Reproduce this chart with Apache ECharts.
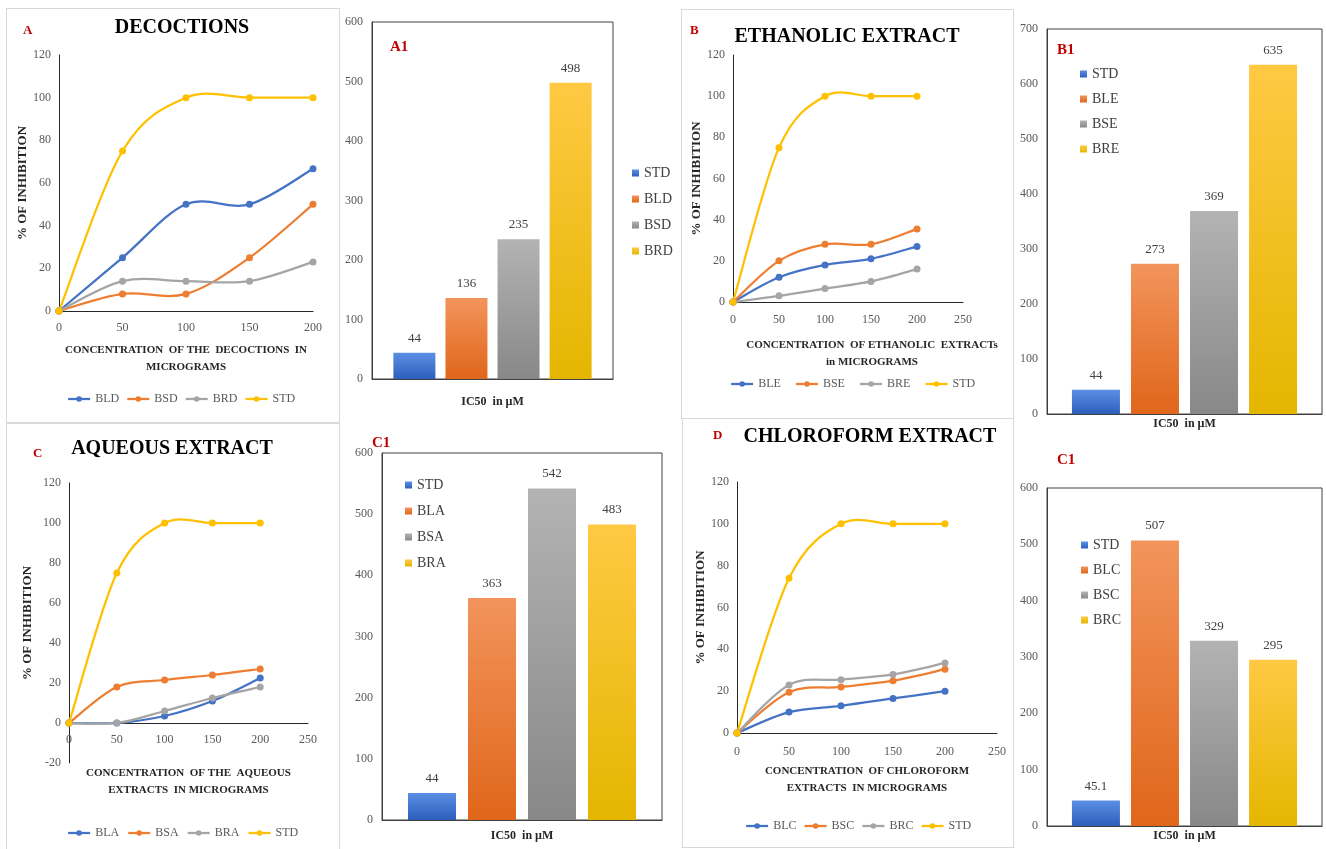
<!DOCTYPE html>
<html>
<head>
<meta charset="utf-8">
<script src="https://cdn.jsdelivr.net/npm/echarts@6/dist/echarts.min.js"></script>
<style>
html,body{margin:0;padding:0;background:#fff;}
.frame{position:absolute;border:1px solid #d9d9d9;box-sizing:border-box;}
.layer{position:absolute;left:0;top:0;width:1326px;height:849px;}
</style>
</head>
<body>
<div class="frame" style="left:6px;top:8px;width:334px;height:416px;"></div>
<div class="frame" style="left:681px;top:9px;width:333px;height:410px;"></div>
<div class="frame" style="left:6px;top:422px;width:334px;height:440px;"></div>
<div class="frame" style="left:682px;top:418px;width:332px;height:430px;"></div>
<div class="layer" id="cA"></div>
<div class="layer" id="cA1"></div>
<div class="layer" id="cB"></div>
<div class="layer" id="cB1"></div>
<div class="layer" id="cC"></div>
<div class="layer" id="cC1"></div>
<div class="layer" id="cD"></div>
<div class="layer" id="cD1"></div>
<script>
// ---------- DATA ----------
const concentrations = [0, 50, 100, 150, 200];

// A: Decoctions
const decoctionNames = ['BLD', 'BSD', 'BRD', 'STD'];
const BLD = [0, 25, 50, 50, 66.7];
const BSD = [0, 8, 8, 25, 50];
const BRD = [0, 14, 14, 14, 23];
const STD_A = [0, 75, 100, 100, 100];

// B: Ethanolic extract
const ethanolicNames = ['BLE', 'BSE', 'BRE', 'STD'];
const BLE = [0, 12, 18, 21, 27];
const BSE = [0, 20, 28, 28, 35.5];
const BRE = [0, 3, 6.5, 10, 16];
const STD_B = [0, 75, 100, 100, 100];

// C: Aqueous extract
const aqueousNames = ['BLA', 'BSA', 'BRA', 'STD'];
const BLA = [0, 0, 3.5, 11, 22.5];
const BSA = [0, 18, 21.5, 24, 27];
const BRA = [0, 0, 6, 12.5, 18];
const STD_C = [0, 75, 100, 100, 100];

// D: Chloroform extract
const chloroformNames = ['BLC', 'BSC', 'BRC', 'STD'];
const BLC = [0, 10, 13, 16.5, 20];
const BSC = [0, 19.5, 22, 25, 30.5];
const BRC = [0, 23, 25.5, 28, 33.5];
const STD_D = [0, 74, 100, 100, 100];

// IC50 bar charts
const ic50Category = ['IC50  in µM'];
const a1Names = ['STD', 'BLD', 'BSD', 'BRD'];
const a1Values = [44, 136, 235, 498];
const b1Names = ['STD', 'BLE', 'BSE', 'BRE'];
const b1Values = [44, 273, 369, 635];
const c1Names = ['STD', 'BLA', 'BSA', 'BRA'];
const c1Values = [44, 363, 542, 483];
const d1Names = ['STD', 'BLC', 'BSC', 'BRC'];
const d1Values = [45.1, 507, 329, 295];

// ---------- STYLE ----------
const FONT = '"Liberation Serif", "Times New Roman", serif';
const lineColors = ['#4472C4', '#ED7D31', '#A5A5A5', '#FFC000'];
const barGrad = [
  ['#5b8fe3', '#2c5fbc'],
  ['#f2945c', '#e0661a'],
  ['#b3b3b3', '#888888'],
  ['#ffc943', '#e4b600']
];

// Spreadsheet-style smoothed curve through the data points (pixel positions come from api.coord)
function curveRenderer(color, count) {
  return function (params, api) {
    if (params.dataIndex !== 0) return null;
    const pts = [];
    for (let i = 0; i < count; i++) {
      pts.push(api.coord([api.value(0, i), api.value(1, i)]));
    }
    const children = [];
    for (let i = 0; i < pts.length - 1; i++) {
      const p0 = pts[i - 1] || pts[i];
      const p1 = pts[i];
      const p2 = pts[i + 1];
      const p3 = pts[i + 2] || pts[i + 1];
      children.push({
        type: 'bezierCurve',
        shape: {
          x1: p1[0], y1: p1[1], x2: p2[0], y2: p2[1],
          cpx1: p1[0] + (p2[0] - p0[0]) / 6, cpy1: p1[1] + (p2[1] - p0[1]) / 6,
          cpx2: p2[0] - (p3[0] - p1[0]) / 6, cpy2: p2[1] - (p3[1] - p1[1]) / 6
        },
        style: { stroke: color, lineWidth: 2.25, fill: null }
      });
    }
    return { type: 'group', children: children };
  };
}

function lineOption(p) {
  const series = [];
  p.names.forEach((n, i) => {
    series.push({
      type: 'line', name: n, symbol: 'circle', symbolSize: 7, z: 3,
      lineStyle: { width: 2.25, color: lineColors[i], opacity: 0 },
      itemStyle: { color: lineColors[i] },
      data: concentrations.map((x, j) => [x, p.values[i][j]])
    });
  });
  p.names.forEach((n, i) => {
    const pts = concentrations.map((x, j) => [x, p.values[i][j]]);
    series.push({
      type: 'custom', name: n, z: 2, silent: true, clip: false,
      renderItem: curveRenderer(lineColors[i], pts.length),
      data: pts
    });
  });
  return {
    animation: false,
    textStyle: { fontFamily: FONT },
    title: [
      { text: p.title, left: p.titleX, top: p.titleY, textAlign: 'center', padding: 0,
        textStyle: { fontFamily: FONT, fontSize: 20, fontWeight: 'bold', color: '#000' } },
      { text: p.letter, left: p.letterX, top: p.letterY, padding: 0,
        textStyle: { fontFamily: FONT, fontSize: 13, fontWeight: 'bold', color: '#c00000' } }
    ],
    grid: p.grid,
    legend: {
      data: p.names, left: p.legendX, top: p.legendY, itemWidth: 22, itemHeight: 7,
      itemGap: p.legendGap, padding: 0,
      lineStyle: { opacity: 1, width: 2.25 },
      textStyle: { fontFamily: FONT, fontSize: 12, color: '#595959' }
    },
    xAxis: {
      type: 'value', min: 0, max: p.xMax, interval: 50,
      axisLine: { show: true, onZero: true, lineStyle: { color: '#262626', width: 1 } },
      axisTick: { show: false }, splitLine: { show: false },
      axisLabel: { color: '#595959', fontSize: 12, fontFamily: FONT, margin: p.xLabelMargin },
      name: p.xName, nameLocation: 'middle', nameGap: p.xNameGap,
      nameTextStyle: { fontFamily: FONT, fontSize: 11, fontWeight: 'bold', color: '#262626',
        lineHeight: 17, padding: p.xNamePad || 0 }
    },
    yAxis: {
      type: 'value', min: p.yMin, max: 120, interval: 20,
      axisLine: { show: true, lineStyle: { color: '#262626', width: 1 } },
      axisTick: { show: false }, splitLine: { show: false },
      axisLabel: { color: '#595959', fontSize: 12, fontFamily: FONT, margin: 8 },
      name: '% OF INHIBITION', nameLocation: 'middle', nameGap: p.yNameGap,
      nameTextStyle: { fontFamily: FONT, fontSize: 13, fontWeight: 'bold', color: '#262626' }
    },
    series: series
  };
}

function barOption(p) {
  return {
    animation: false,
    textStyle: { fontFamily: FONT },
    title: [
      { text: p.letter, left: p.letterX, top: p.letterY, padding: 0,
        textStyle: { fontFamily: FONT, fontSize: 15, fontWeight: 'bold', color: '#c00000' } }
    ],
    grid: Object.assign({ show: true, borderColor: '#404040', borderWidth: 1 }, p.grid),
    legend: {
      data: p.names, orient: 'vertical', left: p.legendX, top: p.legendY, icon: 'rect',
      itemWidth: 7, itemHeight: 7, itemGap: p.legendGap, padding: 0,
      textStyle: { fontFamily: FONT, fontSize: 14, color: '#404040' }
    },
    xAxis: {
      type: 'category', data: ic50Category,
      axisLine: { show: true, lineStyle: { color: '#404040' } }, axisTick: { show: false },
      axisLabel: { fontFamily: FONT, fontSize: 12, fontWeight: 'bold', color: '#262626', margin: p.xLabelMargin }
    },
    yAxis: {
      type: 'value', min: 0, max: p.yMax, interval: 100,
      axisLine: { show: true, lineStyle: { color: '#404040' } }, axisTick: { show: false },
      splitLine: { show: false },
      axisLabel: { color: '#595959', fontSize: 12, fontFamily: FONT, margin: 9 }
    },
    series: p.names.map((n, i) => ({
      type: 'bar', name: n, barWidth: p.barWidth, barGap: p.barGap,
      itemStyle: { color: { type: 'linear', x: 0, y: 0, x2: 0, y2: 1,
        colorStops: [{ offset: 0, color: barGrad[i][0] }, { offset: 1, color: barGrad[i][1] }] } },
      label: { show: true, position: 'top', distance: 8, color: '#404040', fontSize: 13, fontFamily: FONT },
      data: [p.values[i]]
    }))
  };
}

function draw(id, opt) {
  echarts.init(document.getElementById(id), null, { renderer: 'canvas' }).setOption(opt);
}

draw('cA', lineOption({
  title: 'DECOCTIONS', titleX: 182, titleY: 18, letter: 'A', letterX: 23, letterY: 24,
  names: decoctionNames, values: [BLD, BSD, BRD, STD_A],
  grid: { left: 59, top: 55, width: 254, height: 256 }, xMax: 200, yMin: 0,
  xName: 'CONCENTRATION  OF THE  DECOCTIONS  IN\nMICROGRAMS', xNameGap: 31, xLabelMargin: 11,
  yNameGap: 30, legendX: 67, legendY: 393, legendGap: 7
}));
draw('cB', lineOption({
  title: 'ETHANOLIC EXTRACT', titleX: 847, titleY: 27, letter: 'B', letterX: 690, letterY: 24,
  names: ethanolicNames, values: [BLE, BSE, BRE, STD_B],
  grid: { left: 733, top: 55, width: 230, height: 247 }, xMax: 250, yMin: 0,
  xName: 'CONCENTRATION  OF ETHANOLIC  EXTRACTs\nin MICROGRAMS', xNameGap: 35, xLabelMargin: 12,
  xNamePad: [0, 0, 0, 48],
  yNameGap: 28, legendX: 730, legendY: 378, legendGap: 14
}));
draw('cC', lineOption({
  title: 'AQUEOUS EXTRACT', titleX: 172, titleY: 439, letter: 'C', letterX: 33, letterY: 447,
  names: aqueousNames, values: [BLA, BSA, BRA, STD_C],
  grid: { left: 69, top: 483, width: 239, height: 280 }, xMax: 250, yMin: -20,
  xName: 'CONCENTRATION  OF THE  AQUEOUS\nEXTRACTS  IN MICROGRAMS', xNameGap: 2, xLabelMargin: -29,
  yNameGap: 35, legendX: 67, legendY: 827, legendGap: 8
}));
draw('cD', lineOption({
  title: 'CHLOROFORM EXTRACT', titleX: 870, titleY: 427, letter: 'D', letterX: 713, letterY: 429,
  names: chloroformNames, values: [BLC, BSC, BRC, STD_D],
  grid: { left: 737, top: 482, width: 260, height: 251 }, xMax: 250, yMin: 0,
  xName: 'CONCENTRATION  OF CHLOROFORM\nEXTRACTS  IN MICROGRAMS', xNameGap: 30, xLabelMargin: 13,
  yNameGap: 27, legendX: 745, legendY: 820, legendGap: 7
}));

draw('cA1', barOption({
  letter: 'A1', letterX: 390, letterY: 40, names: a1Names, values: a1Values,
  grid: { left: 372, top: 22, width: 241, height: 357 }, yMax: 600, barWidth: 42, barGap: '24%',
  legendX: 632, legendY: 166, legendGap: 12, xLabelMargin: 17
}));
draw('cB1', barOption({
  letter: 'B1', letterX: 1057, letterY: 43, names: b1Names, values: b1Values,
  grid: { left: 1047, top: 29, width: 275, height: 385 }, yMax: 700, barWidth: 48, barGap: '23%',
  legendX: 1080, legendY: 67, legendGap: 11, xLabelMargin: 4
}));
draw('cC1', barOption({
  letter: 'C1', letterX: 372, letterY: 436, names: c1Names, values: c1Values,
  grid: { left: 382, top: 453, width: 280, height: 367 }, yMax: 600, barWidth: 48, barGap: '25%',
  legendX: 405, legendY: 478, legendGap: 12, xLabelMargin: 10
}));
draw('cD1', barOption({
  letter: 'C1', letterX: 1057, letterY: 453, names: d1Names, values: d1Values,
  grid: { left: 1047, top: 488, width: 275, height: 338 }, yMax: 600, barWidth: 48, barGap: '23%',
  legendX: 1081, legendY: 538, legendGap: 11, xLabelMargin: 4
}));
</script>
</body>
</html>
